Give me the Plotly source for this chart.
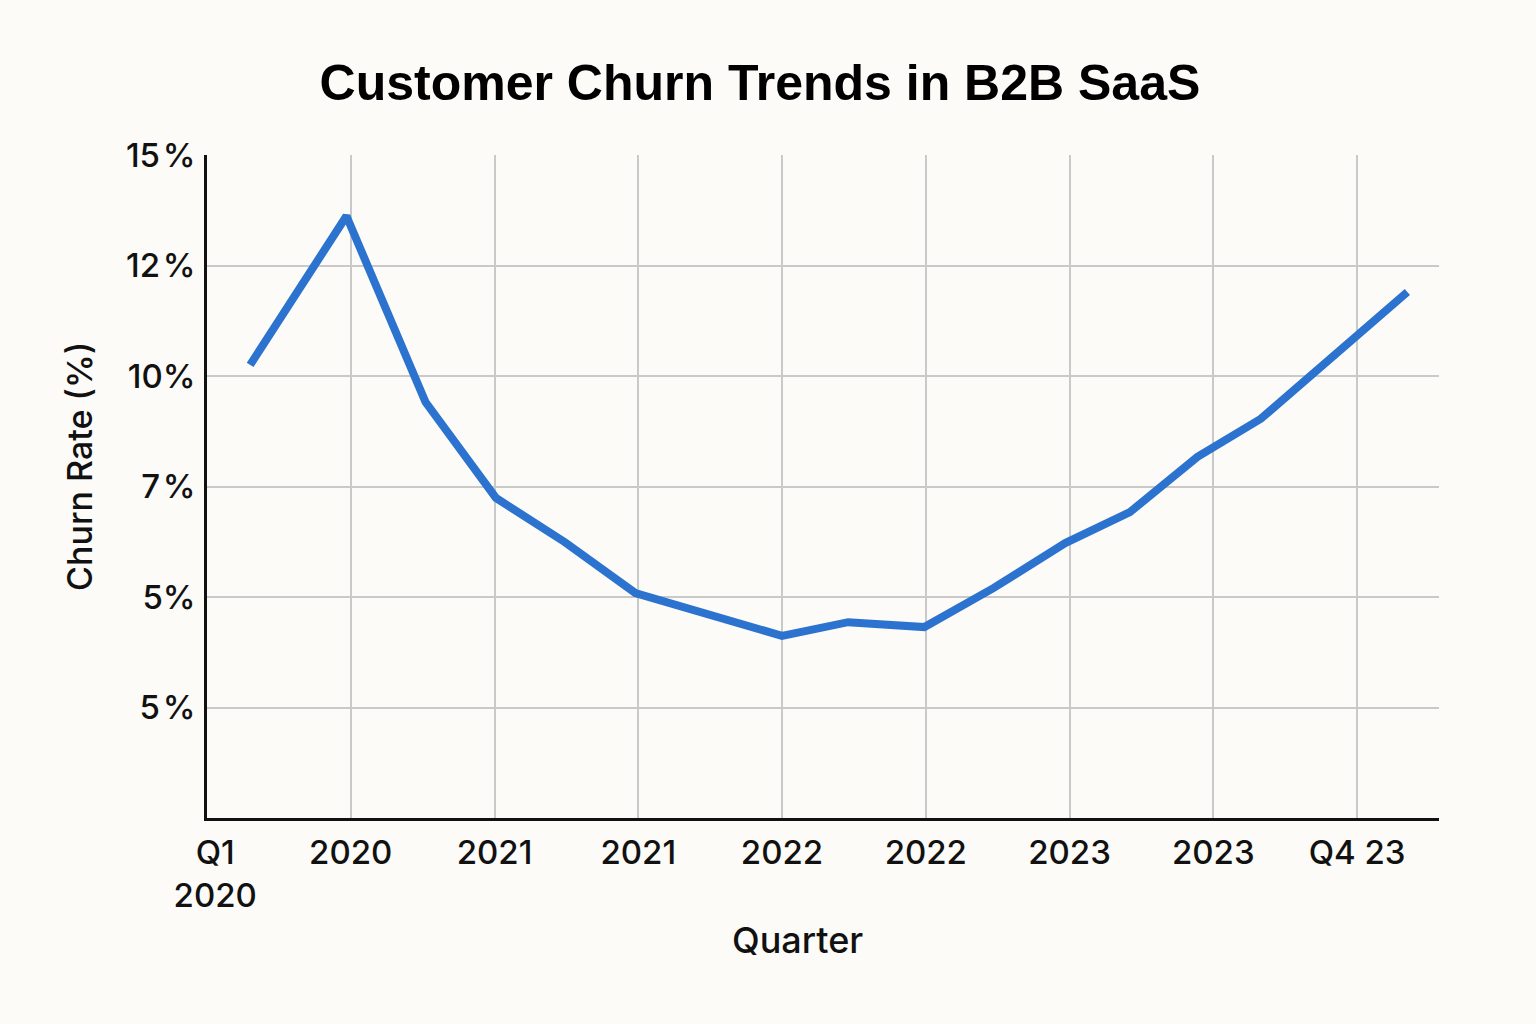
import plotly.graph_objects as go

# quarter position on the x axis (one unit per labelled gridline) and churn in %
quarter_pos = [0.30, 0.97, 1.52, 2.01, 2.49, 2.98, 4.00, 4.46, 4.99, 5.47, 5.97, 6.42, 6.89, 7.33, 8.35]
churn_rate = [10.25, 13.62, 9.41, 7.24, 6.24, 5.09, 4.12, 4.43, 4.32, 5.20, 6.22, 6.92, 8.17, 9.03, 11.90]

x_tick_vals = [0, 1, 2, 3, 4, 5, 6, 7, 8]
x_tick_text = ["\u2002Q1<br>\u20022020", "2020", "2021", "2021", "2022", "2022", "2023", "2023", "Q4 23"]
y_tick_vals = [15, 12.5, 10, 7.5, 5, 2.5]
y_tick_text = ["15\u200a%", "12\u200a%", "10%", "7\u200a%", "5%", "5\u200a%"]

bg = "#FCFBF7"
font_family = "Inter, Roboto, 'Noto Sans', sans-serif"
title_family = "'Liberation Sans', Arial, sans-serif"

fig = go.Figure()

fig.add_trace(go.Scatter(
    x=quarter_pos,
    y=churn_rate,
    mode="lines",
    line=dict(color="#2B73CE", width=8),
    showlegend=False,
    hoverinfo="skip",
))

# page has an 8px body margin, so the figure is 16px smaller than the window
fig.update_layout(
    width=1520,
    height=1008,
    paper_bgcolor=bg,
    plot_bgcolor=bg,
    margin=dict(l=199, r=89, t=147, b=198),
    font=dict(family=font_family, color="#111111", size=33),
    title=dict(
        text="<b>Customer Churn Trends in B2B SaaS</b>",
        x=0.4947, xanchor="center",
        y=0.9256, yanchor="middle",
        font=dict(size=50, family=title_family, color="#000000"),
    ),
)

fig.update_xaxes(
    range=[0, 8.57],
    tickmode="array",
    tickvals=x_tick_vals,
    ticktext=x_tick_text,
    tickfont=dict(size=33, weight=500),
    ticklabelstandoff=4,
    showgrid=True,
    gridcolor="#C9C9C9",
    gridwidth=1.5,
    zeroline=False,
    showline=True,
    linecolor="#111111",
    linewidth=2.5,
)

fig.update_yaxes(
    range=[0, 15],
    tickmode="array",
    tickvals=y_tick_vals,
    ticktext=y_tick_text,
    tickfont=dict(size=33, weight=500),
    ticklabelstandoff=2,
    showgrid=True,
    gridcolor="#C9C9C9",
    gridwidth=1.5,
    zeroline=False,
    showline=True,
    linecolor="#111111",
    linewidth=2.5,
)

# axis titles placed as annotations so they sit where the reference has them
fig.add_annotation(
    text="Quarter", xref="paper", yref="paper", x=0.479, y=-0.184,
    xanchor="center", yanchor="middle", showarrow=False,
    font=dict(size=36, family=font_family, color="#111111", weight=500),
)
fig.add_annotation(
    text="Churn Rate (%)", xref="paper", yref="paper", x=-0.1031, y=0.531,
    xanchor="center", yanchor="middle", showarrow=False, textangle=-90,
    font=dict(size=34, family=font_family, color="#111111", weight=500),
)

# colour the body margin too, so no white frame shows round the figure
fig.write_html("out.html", post_script="document.body.style.backgroundColor='%s';" % bg)
